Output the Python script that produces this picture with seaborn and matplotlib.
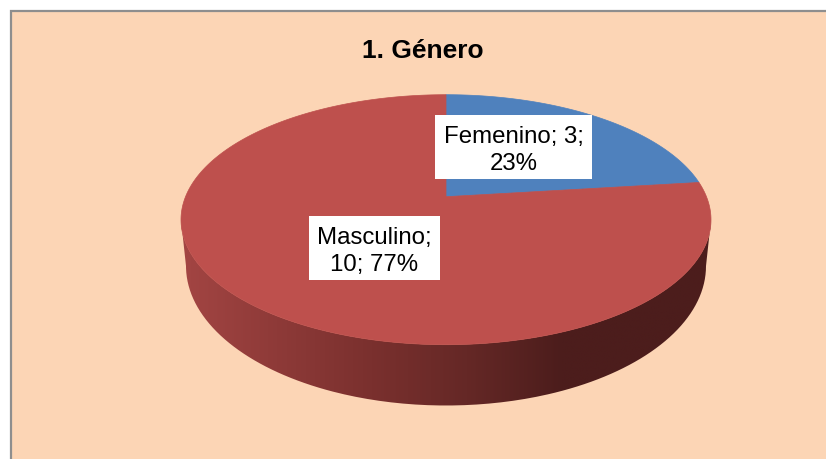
import numpy as np
import matplotlib
matplotlib.use('Agg')
import matplotlib.pyplot as plt
from matplotlib.patches import PathPatch, Rectangle
from matplotlib.path import Path
import seaborn as sns

# datos
categorias = ['Femenino', 'Masculino']
valores = [3, 10]
porcentajes = ['23%', '77%']
titulo = '1. Género'

colores = ['#4F81BD', '#BE504D']
fondo = '#FCD5B5'
borde = '#8E8E8E'

# geometria de la elipse superior (pixeles)
cx, cy, rx, ry = 446, 220.7, 265, 125
persp = 0.184
# elipse inferior del lateral
cy_base, rx_base, ry_base = 267, 260, 139.5

sns.set_theme(style='white')
plt.rcParams['font.family'] = ['Liberation Sans', 'DejaVu Sans']


def proyectar(theta):
    # theta desde arriba, sentido horario; circulo -> elipse con perspectiva
    u, v = np.sin(theta), np.cos(theta)
    d = 1 + persp * v
    x = cx + rx * np.sqrt(1 - persp ** 2) * u / d
    y = cy - ry * (v + persp) / d
    return x, y


def sector(a0, a1):
    t = np.linspace(a0, a1, 300)
    x, y = proyectar(t)
    ax0, ay0 = cx, cy - ry * persp
    return np.r_[ax0, x], np.r_[ay0, y]


fig = plt.figure(figsize=(8.26, 4.6), dpi=100)
ax = fig.add_axes([0, 0, 1, 1])
ax.set_xlim(0, 826)
ax.set_ylim(460, 0)
ax.axis('off')

# marco
ax.add_patch(Rectangle((11, 12), 830, 460, facecolor=fondo, edgecolor=borde, linewidth=1.6))

# lateral con degradado
t = np.linspace(0, np.pi, 200)
x_sup = cx - rx * np.cos(t)
y_sup = cy + ry * np.sin(t)
x_inf = cx - rx_base * np.cos(t)
y_inf = cy_base + ry_base * np.sin(t)
verts = np.r_[np.c_[x_sup, y_sup], np.c_[x_inf, y_inf][::-1], [[x_sup[0], y_sup[0]]]]
lateral = PathPatch(Path(verts), facecolor='none', edgecolor='none')
ax.add_patch(lateral)
paleta = sns.blend_palette(['#A34543', '#8E3A38', '#7A302E', '#652826', '#4C1D1C', '#4C1D1C', '#4C1D1C'], 256)
grad = np.array(paleta)[np.newaxis, :, :]
img = ax.imshow(grad, extent=(181, 753, 410, 215), aspect='auto', interpolation='bilinear', zorder=2)
img.set_clip_path(lateral)
ax.set_xlim(0, 826)
ax.set_ylim(460, 0)

# sectores
angulo = 0
fracciones = np.array(valores) / sum(valores)
for frac, color in zip(fracciones, colores):
    fin = angulo + 2 * np.pi * frac
    px, py = sector(angulo, fin)
    ax.fill(px, py, color=color, linewidth=0.5, zorder=3)
    angulo = fin

# etiquetas
ax.add_patch(Rectangle((435, 115.5), 157, 64, facecolor='white', edgecolor='none', zorder=4))
ax.add_patch(Rectangle((309, 216.5), 131, 64, facecolor='white', edgecolor='none', zorder=4))
ax.text(513.5, 150.5, f'{categorias[0]}; {valores[0]};\n{porcentajes[0]}', ha='center', va='center',
        fontsize=17.3, color='black', linespacing=1.3, zorder=5)
ax.text(374.5, 251.5, f'{categorias[1]};\n{valores[1]}; {porcentajes[1]}', ha='center', va='center',
        fontsize=17.3, color='black', linespacing=1.3, zorder=5)
ax.text(423, 50.5, titulo, ha='center', va='center', fontsize=19, fontweight='bold', color='black', zorder=5)

fig.savefig('out.png', dpi=100)
